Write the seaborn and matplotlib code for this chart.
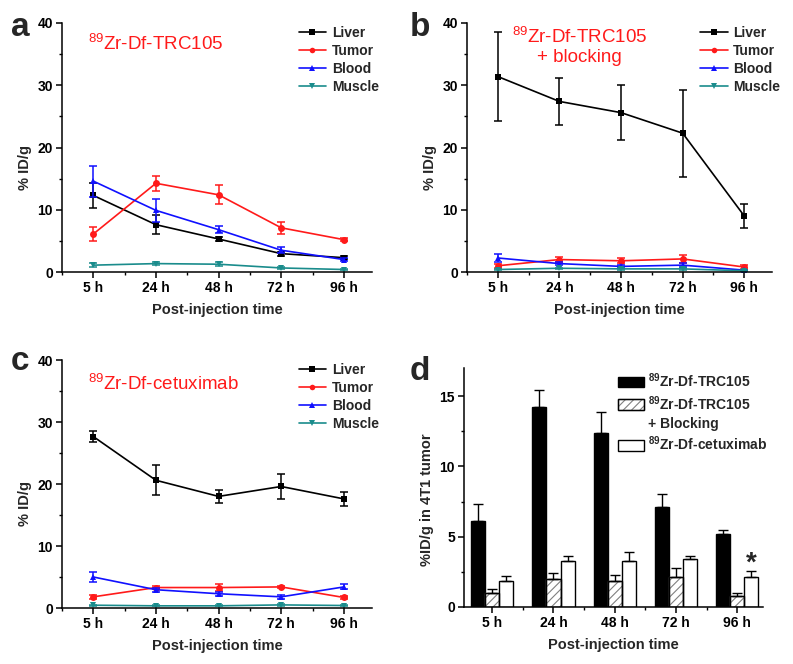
import numpy as np
import pandas as pd
import matplotlib
matplotlib.use('Agg')
import matplotlib.pyplot as plt
from matplotlib.patches import Patch, Rectangle
from matplotlib.ticker import MultipleLocator
import seaborn as sns

# time points
times = ['5 h', '24 h', '48 h', '72 h', '96 h']
organs = ['Liver', 'Tumor', 'Blood', 'Muscle']

# panel a: 89Zr-Df-TRC105
a_mean = {'Liver': [12.3, 7.6, 5.3, 2.95, 2.3],
          'Tumor': [6.1, 14.25, 12.4, 7.1, 5.2],
          'Blood': [14.6, 9.9, 6.8, 3.5, 2.0],
          'Muscle': [1.1, 1.35, 1.25, 0.65, 0.4]}
a_err = {'Liver': [2.0, 1.5, 0.3, 0.3, 0.2],
         'Tumor': [1.2, 1.2, 1.5, 0.95, 0.3],
         'Blood': [2.5, 1.9, 0.6, 0.45, 0.2],
         'Muscle': [0.3, 0.3, 0.3, 0.2, 0.15]}

# panel b: 89Zr-Df-TRC105 + blocking
b_mean = {'Liver': [31.4, 27.4, 25.6, 22.3, 9.0],
          'Tumor': [1.0, 2.0, 1.8, 2.1, 0.8],
          'Blood': [2.25, 1.35, 0.9, 1.1, 0.3],
          'Muscle': [0.4, 0.6, 0.5, 0.5, 0.2]}
b_err = {'Liver': [7.2, 3.8, 4.4, 7.0, 1.9],
         'Tumor': [0.3, 0.4, 0.4, 0.6, 0.25],
         'Blood': [0.6, 0.3, 0.3, 0.3, 0.1],
         'Muscle': [0.1, 0.1, 0.1, 0.1, 0.1]}

# panel c: 89Zr-Df-cetuximab
c_mean = {'Liver': [27.65, 20.6, 18.0, 19.6, 17.6],
          'Tumor': [1.8, 3.3, 3.3, 3.4, 1.7],
          'Blood': [5.0, 2.95, 2.3, 1.8, 3.4],
          'Muscle': [0.45, 0.35, 0.35, 0.5, 0.4]}
c_err = {'Liver': [0.85, 2.45, 1.0, 2.0, 1.15],
         'Tumor': [0.3, 0.3, 0.5, 0.2, 0.2],
         'Blood': [0.8, 0.3, 0.3, 0.3, 0.4],
         'Muscle': [0.1, 0.1, 0.1, 0.1, 0.1]}

# panel d: tumor uptake
groups = ['TRC105', 'TRC105 + Blocking', 'cetuximab']
d_mean = {'TRC105': [6.1, 14.25, 12.4, 7.1, 5.2],
          'TRC105 + Blocking': [1.0, 1.97, 1.85, 2.14, 0.78],
          'cetuximab': [1.85, 3.28, 3.25, 3.39, 2.14]}
d_err = {'TRC105': [1.2, 1.22, 1.5, 0.95, 0.31],
         'TRC105 + Blocking': [0.3, 0.45, 0.4, 0.64, 0.24],
         'cetuximab': [0.33, 0.35, 0.67, 0.24, 0.42]}

colors = {'Liver': 'black', 'Tumor': '#ff1a1a', 'Blood': '#1010ff', 'Muscle': '#1a8c8c'}
markers = {'Liver': 's', 'Tumor': 'o', 'Blood': '^', 'Muscle': 'v'}
hatch_gray = '#808080'

sns.set_theme(style='ticks')
plt.rcParams['font.family'] = ['Liberation Sans', 'DejaVu Sans']
plt.rcParams['mathtext.default'] = 'regular'
plt.rcParams['hatch.linewidth'] = 0.8

W, H = 793, 664
fig = plt.figure(figsize=(W / 100, H / 100), dpi=100)


def px_axes(left, right, top, bottom):
    return fig.add_axes([left / W, 1 - bottom / H, (right - left) / W, (bottom - top) / H])


def style_axes(ax, ymax, ymajor, yminor, ylabel, ylabel_y):
    ax.set_xlim(-0.5, 4.45)
    ax.set_ylim(0, ymax)
    ax.set_xticks(range(len(times)))
    ax.set_xticklabels(times)
    ax.xaxis.set_minor_locator(MultipleLocator(1, offset=0.5))
    ax.yaxis.set_major_locator(MultipleLocator(ymajor))
    ax.yaxis.set_minor_locator(MultipleLocator(yminor))
    for s in ['top', 'right']:
        ax.spines[s].set_visible(False)
    for s in ['left', 'bottom']:
        ax.spines[s].set_linewidth(1.1)
        ax.spines[s].set_color('black')
    ax.tick_params(which='major', direction='out', length=4, width=1.1, colors='black',
                   labelsize=10, pad=2.5)
    ax.tick_params(which='minor', direction='out', length=2.5, width=1.0, colors='black')
    for lab in ax.get_xticklabels() + ax.get_yticklabels():
        lab.set_fontweight('bold')
    ax.set_xlabel('Post-injection time', fontsize=10.5, fontweight='bold', labelpad=6)
    ax.set_ylabel(ylabel, fontsize=10.5, fontweight='bold', labelpad=4)
    ax.yaxis.label.set_position((0, ylabel_y))


def line_panel(ax, means, errs):
    x = np.arange(len(times))
    for org in organs:
        sns.lineplot(x=x, y=means[org], ax=ax, color=colors[org], marker=markers[org],
                     markersize=5, markeredgewidth=0, linewidth=1.2, label=org)
        ax.errorbar(x, means[org], yerr=errs[org], fmt='none', ecolor=colors[org],
                    elinewidth=1.1, capsize=3, capthick=1.1)
    style_axes(ax, 40, 10, 5, '% ID/g', 0.42)
    ax.legend(loc='upper left', bbox_to_anchor=(0.745, 1.01), frameon=False,
              prop={'weight': 'bold', 'size': 10}, handlelength=2.0, markerscale=0.8,
              handletextpad=0.4, labelspacing=0.28, borderaxespad=0)


# panel a
ax_a = px_axes(62, 372, 23, 272)
line_panel(ax_a, a_mean, a_err)
ax_a.text(0.085, 0.915, '$^{89}$Zr-Df-TRC105', transform=ax_a.transAxes, color='#ff1a1a',
          fontsize=13.5, ha='left', va='center')

# panel b
ax_b = px_axes(467, 772, 23, 272)
line_panel(ax_b, b_mean, b_err)
ax_b.text(0.37, 0.905, '$^{89}$Zr-Df-TRC105\n+ blocking', transform=ax_b.transAxes,
          color='#ff1a1a', fontsize=13.5, ha='center', va='center', linespacing=1.15)

# panel c
ax_c = px_axes(62, 372, 360, 608)
line_panel(ax_c, c_mean, c_err)
ax_c.text(0.085, 0.905, '$^{89}$Zr-Df-cetuximab', transform=ax_c.transAxes, color='#ff1a1a',
          fontsize=13.5, ha='left', va='center')

# panel d
ax_d = px_axes(464, 763, 368, 607)
rows = []
for g in groups:
    for t, v in zip(times, d_mean[g]):
        rows.append({'time': t, 'group': g, 'value': v})
df_d = pd.DataFrame(rows)
sns.barplot(data=df_d, x='time', y='value', hue='group', order=times, hue_order=groups,
            ax=ax_d, width=0.69, gap=0, edgecolor='black', linewidth=1.0,
            palette=['black', 'white', 'white'], saturation=1, legend=False)
for g, cont in zip(groups, ax_d.containers):
    xs = [p.get_x() + p.get_width() / 2 for p in cont.patches]
    hs = [p.get_height() for p in cont.patches]
    ax_d.errorbar(xs, hs, yerr=[np.zeros(len(hs)), d_err[g]], fmt='none', ecolor='black',
                  elinewidth=1.0, capsize=3.5, capthick=1.0)
    if g == 'TRC105 + Blocking':
        for p in cont.patches:
            p.set_hatch('////')
            p.set_edgecolor(hatch_gray)
            # black outline on top of the gray hatch
            ax_d.add_patch(Rectangle(p.get_xy(), p.get_width(), p.get_height(), fill=False,
                                     edgecolor='black', linewidth=1.0, zorder=p.get_zorder() + 0.1))
    if g == 'cetuximab':
        star_x = xs[-1]
        star_y = hs[-1] + d_err[g][-1]
ax_d.text(star_x, star_y + 0.55, '*', ha='center', va='center', fontsize=20,
          fontweight='bold')
style_axes(ax_d, 17, 5, 2.5, '%ID/g in 4T1 tumor', 0.45)
ax_d.set_xlim(-0.46, 4.42)

hatched = (Patch(facecolor='white', edgecolor=hatch_gray, hatch='////'),
           Patch(facecolor='none', edgecolor='black'))
handles = [Patch(facecolor='black', edgecolor='black'),
           hatched,
           Patch(facecolor='none', edgecolor='none'),
           Patch(facecolor='white', edgecolor='black')]
labels = ['$^{89}$Zr-Df-TRC105', '$^{89}$Zr-Df-TRC105', '+ Blocking', '$^{89}$Zr-Df-cetuximab']
ax_d.legend(handles, labels, loc='upper left', bbox_to_anchor=(0.495, 1.01), frameon=False,
            prop={'weight': 'bold', 'size': 10}, handlelength=1.9, handleheight=0.8,
            handletextpad=0.3, labelspacing=0.3, borderaxespad=0)

# panel letters
for lx, ly, letter in [(20, 28, 'a'), (420, 28, 'b'), (20, 362, 'c'), (420, 372, 'd')]:
    fig.text(lx / W, 1 - ly / H, letter, fontsize=24, fontweight='bold', ha='center',
             va='center')

fig.savefig('out.png', dpi=100)
